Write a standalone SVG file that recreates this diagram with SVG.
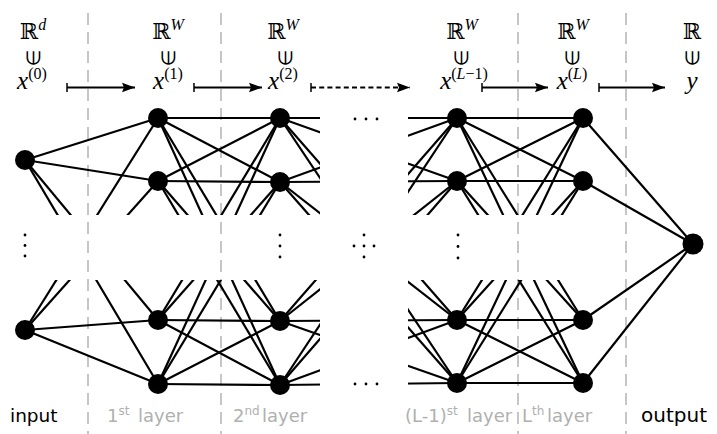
<svg xmlns="http://www.w3.org/2000/svg" width="717" height="434" viewBox="0 0 717 434">
  <style>
    .guide { stroke: #b4b4b4; stroke-width: 1.5; stroke-dasharray: 12 7; fill: none; }
    .edge line { stroke: #000; stroke-width: 2.2; }
    .node { fill: #000; }
    .dot { fill: #000; }
    .flow { stroke: #000; stroke-width: 2.2; fill: none; }
    .tick { stroke: #000; stroke-width: 1.5; }
    .m { font-family: "Liberation Serif", "DejaVu Serif", serif; font-size: 22px; fill: #000; text-anchor: middle; }
    .it { font-style: italic; }
    .var { font-size: 25px; }
    .sup { font-size: 16px; }
    .elem { font-family: "DejaVu Sans", "DejaVu Serif", serif; font-size: 19px; fill: #000; text-anchor: middle; dominant-baseline: central; }
    .lab { font-family: "DejaVu Sans", Verdana, sans-serif; font-size: 18px; }
    .dark { fill: #000; }
    .gray { fill: #b0b0b0; }
    .lsup { font-size: 12px; }
    .in { font-size: 18.5px; }
    .out { font-size: 20px; }
  </style>
  <defs>
    <marker id="head" markerUnits="userSpaceOnUse" markerWidth="16" markerHeight="12" viewBox="-14 -6 16 12" refX="0" refY="0" orient="auto">
      <path d="M0,0 L-13,-4.8 L-11,0 L-13,4.8 Z" fill="#000"/>
    </marker>
    <clipPath id="visible">
      <rect x="0" y="0" width="320" height="215"/>
      <rect x="0" y="280" width="320" height="154"/>
      <rect x="408" y="0" width="309" height="215"/>
      <rect x="408" y="280" width="309" height="154"/>
    </clipPath>
  </defs>

  <rect width="717" height="434" fill="#fff"/>

  <!-- layer separators -->
  <g id="separators">
    <line class="guide" x1="88" y1="13" x2="88" y2="434"/>
    <line class="guide" x1="221" y1="13" x2="221" y2="434"/>
    <line class="guide" x1="518" y1="13" x2="518" y2="434"/>
    <line class="guide" x1="626" y1="13" x2="626" y2="434"/>
  </g>

  <!-- weights between consecutive layers -->
  <g id="connectors">
    <g class="edge" clip-path="url(#visible)">
      <!-- input -> layer 1 -->
      <line x1="25" y1="160" x2="158" y2="118"/>
      <line x1="25" y1="160" x2="158" y2="181"/>
      <line x1="25" y1="160" x2="158" y2="320"/>
      <line x1="25" y1="160" x2="158" y2="384"/>
      <line x1="25" y1="330" x2="158" y2="118"/>
      <line x1="25" y1="330" x2="158" y2="181"/>
      <line x1="25" y1="330" x2="158" y2="320"/>
      <line x1="25" y1="330" x2="158" y2="384"/>
      <!-- layer 1 -> layer 2 -->
      <line x1="158" y1="118" x2="280" y2="118"/>
      <line x1="158" y1="118" x2="280" y2="182"/>
      <line x1="158" y1="118" x2="280" y2="321"/>
      <line x1="158" y1="118" x2="280" y2="385"/>
      <line x1="158" y1="181" x2="280" y2="118"/>
      <line x1="158" y1="181" x2="280" y2="182"/>
      <line x1="158" y1="181" x2="280" y2="321"/>
      <line x1="158" y1="181" x2="280" y2="385"/>
      <line x1="158" y1="320" x2="280" y2="118"/>
      <line x1="158" y1="320" x2="280" y2="182"/>
      <line x1="158" y1="320" x2="280" y2="321"/>
      <line x1="158" y1="320" x2="280" y2="385"/>
      <line x1="158" y1="384" x2="280" y2="118"/>
      <line x1="158" y1="384" x2="280" y2="182"/>
      <line x1="158" y1="384" x2="280" y2="321"/>
      <line x1="158" y1="384" x2="280" y2="385"/>
      <!-- layer 2 -> layer L-1 -->
      <line x1="280" y1="118" x2="457" y2="118"/>
      <line x1="280" y1="118" x2="457" y2="181"/>
      <line x1="280" y1="118" x2="457" y2="320"/>
      <line x1="280" y1="118" x2="457" y2="383"/>
      <line x1="280" y1="182" x2="457" y2="118"/>
      <line x1="280" y1="182" x2="457" y2="181"/>
      <line x1="280" y1="182" x2="457" y2="320"/>
      <line x1="280" y1="182" x2="457" y2="383"/>
      <line x1="280" y1="321" x2="457" y2="118"/>
      <line x1="280" y1="321" x2="457" y2="181"/>
      <line x1="280" y1="321" x2="457" y2="320"/>
      <line x1="280" y1="321" x2="457" y2="383"/>
      <line x1="280" y1="385" x2="457" y2="118"/>
      <line x1="280" y1="385" x2="457" y2="181"/>
      <line x1="280" y1="385" x2="457" y2="320"/>
      <line x1="280" y1="385" x2="457" y2="383"/>
      <!-- layer L-1 -> layer L -->
      <line x1="457" y1="118" x2="583" y2="118"/>
      <line x1="457" y1="118" x2="583" y2="181"/>
      <line x1="457" y1="118" x2="583" y2="320"/>
      <line x1="457" y1="118" x2="583" y2="383"/>
      <line x1="457" y1="181" x2="583" y2="118"/>
      <line x1="457" y1="181" x2="583" y2="181"/>
      <line x1="457" y1="181" x2="583" y2="320"/>
      <line x1="457" y1="181" x2="583" y2="383"/>
      <line x1="457" y1="320" x2="583" y2="118"/>
      <line x1="457" y1="320" x2="583" y2="181"/>
      <line x1="457" y1="320" x2="583" y2="320"/>
      <line x1="457" y1="320" x2="583" y2="383"/>
      <line x1="457" y1="383" x2="583" y2="118"/>
      <line x1="457" y1="383" x2="583" y2="181"/>
      <line x1="457" y1="383" x2="583" y2="320"/>
      <line x1="457" y1="383" x2="583" y2="383"/>
    </g>
    <g class="edge">
      <!-- layer L -> output -->
      <line x1="583" y1="118" x2="693" y2="244"/>
      <line x1="583" y1="181" x2="693" y2="244"/>
      <line x1="583" y1="320" x2="693" y2="244"/>
      <line x1="583" y1="383" x2="693" y2="244"/>
    </g>
    <!-- maps between the spaces -->
    <g id="maps">
      <line class="tick" x1="67" y1="83" x2="67" y2="92"/>
      <line class="flow" x1="67" y1="87.5" x2="135" y2="87.5" marker-end="url(#head)"/>
      <line class="tick" x1="194" y1="83" x2="194" y2="92"/>
      <line class="flow" x1="194" y1="87.5" x2="262" y2="87.5" marker-end="url(#head)"/>
      <line class="tick" x1="311" y1="83" x2="311" y2="92"/>
      <line class="flow" x1="311" y1="87.5" x2="410" y2="87.5" stroke-dasharray="5 3.2" marker-end="url(#head)"/>
      <line class="tick" x1="482" y1="83" x2="482" y2="92"/>
      <line class="flow" x1="482" y1="87.5" x2="548" y2="87.5" marker-end="url(#head)"/>
      <line class="tick" x1="599" y1="83" x2="599" y2="92"/>
      <line class="flow" x1="599" y1="87.5" x2="665" y2="87.5" marker-end="url(#head)"/>
    </g>
  </g>

  <!-- neurons -->
  <g id="input-layer" class="node">
    <circle cx="25" cy="160" r="10"/>
    <circle cx="25" cy="330" r="10"/>
  </g>
  <g id="layer-1" class="node">
    <circle cx="158" cy="118" r="10"/>
    <circle cx="158" cy="181" r="10"/>
    <circle cx="158" cy="320" r="10"/>
    <circle cx="158" cy="384" r="10"/>
  </g>
  <g id="layer-2" class="node">
    <circle cx="280" cy="118" r="10"/>
    <circle cx="280" cy="182" r="10"/>
    <circle cx="280" cy="321" r="10"/>
    <circle cx="280" cy="385" r="10"/>
  </g>
  <g id="layer-L-1" class="node">
    <circle cx="457" cy="118" r="10"/>
    <circle cx="457" cy="181" r="10"/>
    <circle cx="457" cy="320" r="10"/>
    <circle cx="457" cy="383" r="10"/>
  </g>
  <g id="layer-L" class="node">
    <circle cx="583" cy="118" r="10"/>
    <circle cx="583" cy="181" r="10"/>
    <circle cx="583" cy="320" r="10"/>
    <circle cx="583" cy="383" r="10"/>
  </g>
  <g id="output-layer" class="node">
    <circle cx="693" cy="244" r="10.5"/>
  </g>

  <!-- ellipsis dots -->
  <g id="ellipses" class="dot">
    <circle cx="355" cy="119" r="1.4"/><circle cx="366" cy="119" r="1.4"/><circle cx="377" cy="119" r="1.4"/>
    <circle cx="355" cy="384" r="1.4"/><circle cx="366" cy="384" r="1.4"/><circle cx="377" cy="384" r="1.4"/>
    <circle cx="364" cy="235" r="1.4"/><circle cx="354" cy="246" r="1.4"/><circle cx="364" cy="246" r="1.4"/><circle cx="374" cy="246" r="1.4"/><circle cx="364" cy="257" r="1.4"/>
    <circle cx="25" cy="235" r="1.4"/><circle cx="25" cy="245.5" r="1.4"/><circle cx="25" cy="256" r="1.4"/>
    <circle cx="280" cy="235" r="1.4"/><circle cx="280" cy="246" r="1.4"/><circle cx="280" cy="257" r="1.4"/>
    <circle cx="458" cy="235" r="1.4"/><circle cx="458" cy="246.5" r="1.4"/><circle cx="458" cy="258" r="1.4"/>
  </g>

  <!-- spaces and states -->
  <g id="space-labels">
    <text class="m" x="33" y="39">ℝ<tspan class="sup it" dy="-9">d</tspan></text>
    <text class="m" x="168" y="39">ℝ<tspan class="sup it" dy="-9">W</tspan></text>
    <text class="m" x="283" y="39">ℝ<tspan class="sup it" dy="-9">W</tspan></text>
    <text class="m" x="462" y="39">ℝ<tspan class="sup it" dy="-9">W</tspan></text>
    <text class="m" x="573" y="39">ℝ<tspan class="sup it" dy="-9">W</tspan></text>
    <text class="m" x="692" y="39">ℝ</text>

    <text class="elem" transform="translate(33,58) rotate(-90)">∈</text>
    <text class="elem" transform="translate(168,58) rotate(-90)">∈</text>
    <text class="elem" transform="translate(285,58) rotate(-90)">∈</text>
    <text class="elem" transform="translate(461,58) rotate(-90)">∈</text>
    <text class="elem" transform="translate(572,58) rotate(-90)">∈</text>
    <text class="elem" transform="translate(692,58) rotate(-90)">∈</text>

    <text class="m" x="32" y="89"><tspan class="it var">x</tspan><tspan class="sup" dy="-10">(0)</tspan></text>
    <text class="m" x="168" y="89"><tspan class="it var">x</tspan><tspan class="sup" dy="-10">(1)</tspan></text>
    <text class="m" x="283" y="89"><tspan class="it var">x</tspan><tspan class="sup" dy="-10">(2)</tspan></text>
    <text class="m" x="464" y="89"><tspan class="it var">x</tspan><tspan class="sup" dy="-10">(<tspan class="it">L</tspan>−1)</tspan></text>
    <text class="m" x="572" y="89"><tspan class="it var">x</tspan><tspan class="sup" dy="-10">(<tspan class="it">L</tspan>)</tspan></text>
    <text class="m it var" x="692" y="89">y</text>
  </g>

  <!-- layer captions -->
  <g id="captions" class="lab">
    <text class="dark in" x="10" y="422">input</text>
    <text class="gray" x="107" y="422">1<tspan class="lsup" dy="-7">st</tspan><tspan x="138" dy="7">layer</tspan></text>
    <text class="gray" x="233" y="422">2<tspan class="lsup" dy="-7">nd</tspan><tspan x="262" dy="7">layer</tspan></text>
    <text class="gray" x="405" y="422">(L-1)<tspan class="lsup" dy="-7">st</tspan><tspan x="467" dy="7">layer</tspan></text>
    <text class="gray" x="522" y="422">L<tspan class="lsup" dy="-7">th</tspan><tspan x="547" dy="7">layer</tspan></text>
    <text class="dark out" x="641" y="422">output</text>
  </g>
</svg>
